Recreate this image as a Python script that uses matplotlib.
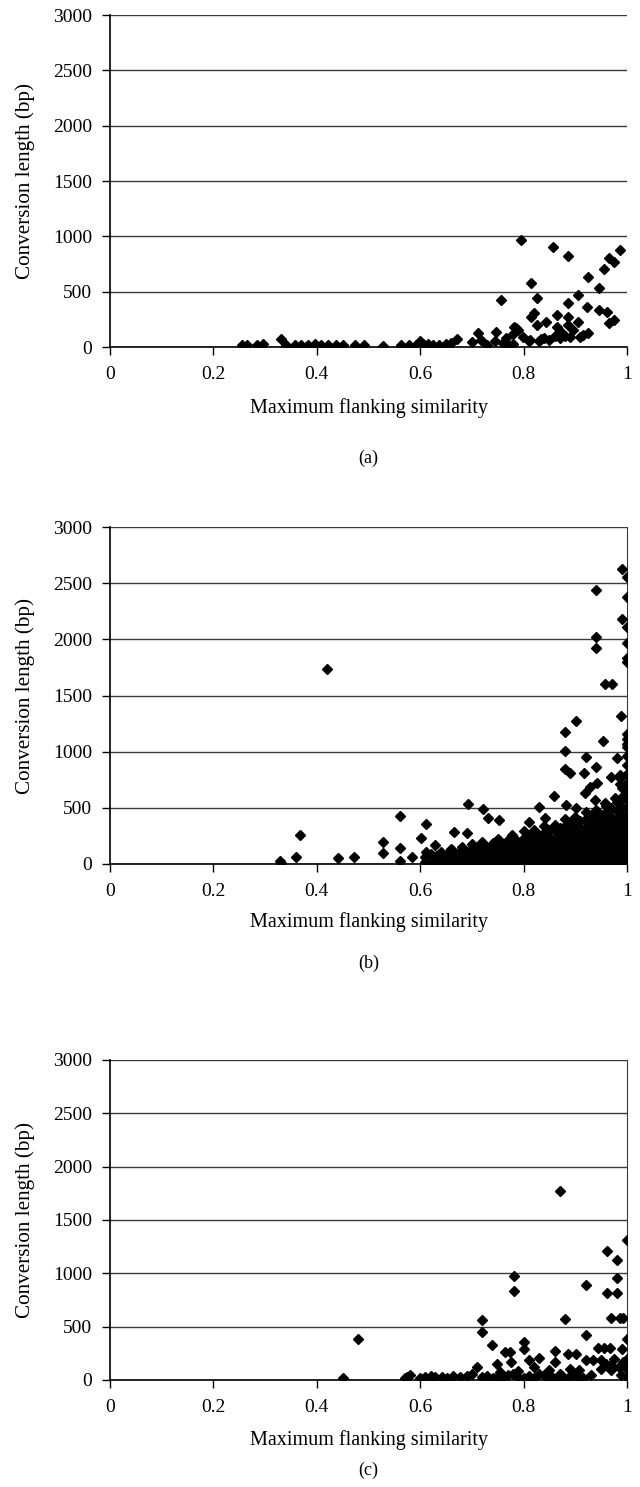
"""Conversion length vs maximum flanking similarity, three panels."""

import matplotlib
matplotlib.use("Agg")
import matplotlib.pyplot as plt

# panel (a)
a_x = [0.255, 0.265, 0.285, 0.295, 0.33, 0.34, 0.357, 0.37, 0.383, 0.396,
       0.409, 0.422, 0.438, 0.45, 0.473, 0.492, 0.528, 0.563, 0.579, 0.592,
       0.60, 0.605, 0.615, 0.624, 0.637, 0.65, 0.66, 0.672,
       0.70, 0.711, 0.718, 0.73, 0.744, 0.746, 0.756, 0.76, 0.766, 0.77,
       0.78, 0.78, 0.782, 0.785, 0.79, 0.795, 0.798, 0.81, 0.812, 0.814,
       0.814, 0.82, 0.825, 0.825, 0.83, 0.833, 0.844, 0.84, 0.85, 0.856,
       0.86, 0.865, 0.865, 0.87, 0.875, 0.88, 0.885, 0.885, 0.885, 0.885,
       0.89, 0.895, 0.905, 0.905, 0.91, 0.915, 0.925, 0.923, 0.925, 0.946,
       0.946, 0.956, 0.962, 0.965, 0.965, 0.975, 0.975, 0.986]
a_y = [20, 15, 20, 25, 75, 15, 20, 15, 20, 25,
       15, 20, 20, 20, 15, 20, 10, 15, 20, 20,
       50, 25, 30, 20, 20, 25, 35, 70,
       48, 124, 63, 20, 50, 138, 425, 40, 78, 20,
       30, 120, 183, 169, 150, 967, 93, 50, 60, 575,
       268, 304, 440, 199, 50, 70, 229, 80, 60, 906,
       100, 289, 180, 80, 130, 100, 822, 400, 274, 200,
       90, 150, 470, 230, 90, 110, 630, 358, 124, 530,
       334, 702, 319, 801, 214, 771, 244, 876]

# panel (b): scattered points
b_x = [0.329, 0.33, 0.359, 0.368, 0.419, 0.441, 0.471, 0.529, 0.529, 0.560,
       0.560, 0.560, 0.584, 0.602, 0.611, 0.611, 0.611, 0.629, 0.661, 0.666,
       0.681, 0.690, 0.693, 0.703, 0.721, 0.732, 0.752, 0.775, 0.777, 0.811,
       0.830, 0.841, 0.858, 0.881, 0.881, 0.881, 0.89, 0.882, 0.901, 0.901,
       0.916, 0.919, 0.921, 0.929, 0.939, 0.94, 0.94, 0.94, 0.94, 0.942,
       0.953, 0.958, 0.958, 0.970, 0.971, 0.977, 0.981, 0.987, 0.987, 0.987,
       0.989, 0.99, 0.99, 1.0, 1.0, 1.0, 1.0, 1.0, 1.0, 1.0, 1.0]
b_y = [27, 8, 65, 258, 1735, 51, 60, 198, 95, 427,
       140, 25, 62, 228, 356, 110, 20, 169, 125, 287,
       125, 273, 531, 160, 487, 412, 391, 210, 258, 377,
       510, 407, 605, 1178, 1008, 845, 813, 525, 1275, 495,
       806, 629, 949, 688, 570, 2439, 2018, 1920, 860, 717,
       1097, 1605, 540, 777, 1605, 584, 940, 762, 790, 710,
       1317, 2626, 2180, 2557, 2379, 2107, 1964, 1830, 1795, 1160, 1070]

# panel (b): the dense mass near the baseline, read column by column
b_dense_x = [0.61, 0.61, 0.62, 0.62, 0.63, 0.63, 0.64, 0.64, 0.64, 0.65, 0.65,
             0.66, 0.66, 0.66, 0.67, 0.67, 0.68, 0.68, 0.68, 0.69, 0.69,
             0.70, 0.70, 0.70, 0.70, 0.71, 0.71, 0.71,
             0.72, 0.72, 0.72, 0.72, 0.73, 0.73, 0.73,
             0.74, 0.74, 0.74, 0.74, 0.75, 0.75, 0.75, 0.75,
             0.76, 0.76, 0.76, 0.76, 0.77, 0.77, 0.77, 0.77,
             0.78, 0.78, 0.78, 0.78, 0.78, 0.79, 0.79, 0.79, 0.79,
             0.80, 0.80, 0.80, 0.80, 0.80, 0.80, 0.81, 0.81, 0.81, 0.81, 0.81,
             0.82, 0.82, 0.82, 0.82, 0.82, 0.82, 0.83, 0.83, 0.83, 0.83, 0.83,
             0.84, 0.84, 0.84, 0.84, 0.84, 0.84, 0.84,
             0.85, 0.85, 0.85, 0.85, 0.85, 0.85,
             0.86, 0.86, 0.86, 0.86, 0.86, 0.86, 0.86,
             0.87, 0.87, 0.87, 0.87, 0.87, 0.87,
             0.88, 0.88, 0.88, 0.88, 0.88, 0.88, 0.88, 0.88,
             0.89, 0.89, 0.89, 0.89, 0.89, 0.89, 0.89,
             0.90, 0.90, 0.90, 0.90, 0.90, 0.90, 0.90, 0.90,
             0.91, 0.91, 0.91, 0.91, 0.91, 0.91, 0.91,
             0.92, 0.92, 0.92, 0.92, 0.92, 0.92, 0.92, 0.92, 0.92,
             0.93, 0.93, 0.93, 0.93, 0.93, 0.93, 0.93, 0.93,
             0.94, 0.94, 0.94, 0.94, 0.94, 0.94, 0.94, 0.94, 0.94,
             0.95, 0.95, 0.95, 0.95, 0.95, 0.95, 0.95, 0.95,
             0.96, 0.96, 0.96, 0.96, 0.96, 0.96, 0.96, 0.96, 0.96, 0.96,
             0.97, 0.97, 0.97, 0.97, 0.97, 0.97, 0.97, 0.97, 0.97,
             0.98, 0.98, 0.98, 0.98, 0.98, 0.98, 0.98, 0.98, 0.98, 0.98,
             0.99, 0.99, 0.99, 0.99, 0.99, 0.99, 0.99, 0.99, 0.99, 0.99, 0.99,
             1.0, 1.0, 1.0, 1.0, 1.0, 1.0, 1.0, 1.0, 1.0, 1.0,
             1.0, 1.0, 1.0, 1.0, 1.0, 1.0, 1.0, 1.0]
b_dense_y = [20, 60, 10, 90, 30, 70, 15, 50, 110, 25, 80,
             10, 60, 130, 30, 90, 15, 55, 150, 35, 100,
             10, 60, 130, 180, 25, 90, 150,
             10, 50, 110, 200, 30, 80, 140,
             15, 60, 120, 190, 35, 90, 150, 220,
             10, 60, 120, 180, 30, 80, 140, 210,
             15, 60, 110, 170, 240, 35, 90, 140, 200,
             10, 55, 110, 160, 230, 290, 30, 80, 130, 190, 250,
             15, 60, 110, 160, 220, 300, 35, 90, 140, 200, 260,
             10, 55, 100, 150, 210, 280, 340,
             30, 80, 130, 180, 240, 300,
             15, 60, 110, 160, 220, 290, 350,
             35, 85, 135, 190, 250, 320,
             10, 55, 105, 155, 210, 270, 340, 400,
             30, 80, 130, 180, 240, 300, 370,
             15, 60, 110, 160, 220, 280, 340, 420,
             35, 85, 135, 190, 250, 310, 380,
             10, 55, 105, 155, 210, 270, 330, 400, 460,
             30, 80, 130, 180, 240, 300, 360, 430,
             15, 60, 110, 160, 220, 280, 340, 400, 480,
             35, 85, 135, 190, 250, 310, 370, 440,
             10, 55, 105, 155, 210, 270, 330, 390, 460, 520,
             30, 80, 130, 180, 240, 300, 360, 420, 500,
             15, 60, 110, 160, 220, 280, 340, 400, 470, 550,
             35, 85, 135, 190, 250, 310, 370, 440, 510, 600, 680,
             10, 50, 100, 150, 200, 260, 320, 380, 440, 500,
             570, 640, 720, 800, 880, 960, 1040, 1110]

# panel (c)
c_x = [0.45, 0.48, 0.57, 0.575, 0.58, 0.60, 0.609, 0.62, 0.629, 0.642,
       0.651, 0.664, 0.677, 0.69, 0.70, 0.709, 0.72, 0.72, 0.73, 0.738,
       0.748, 0.755, 0.764, 0.774, 0.775, 0.781, 0.781, 0.78, 0.79, 0.801,
       0.801, 0.81, 0.82, 0.83, 0.84, 0.85, 0.861, 0.861, 0.87, 0.87,
       0.88, 0.886, 0.89, 0.902, 0.907, 0.92, 0.92, 0.92, 0.93, 0.935,
       0.944, 0.95, 0.955, 0.962, 0.962, 0.968, 0.97, 0.97, 0.97, 0.98,
       0.98, 0.98, 0.987, 0.99, 0.989, 0.993, 0.993, 1.0, 1.0, 1.0,
       1.0, 1.0, 0.72, 0.74, 0.75, 0.76, 0.77, 0.79, 0.80, 0.81,
       0.82, 0.83, 0.845, 0.855, 0.865, 0.875, 0.885, 0.895, 0.905, 0.915,
       0.95, 0.96, 0.975, 0.985]
c_y = [15, 380, 15, 30, 45, 20, 30, 35, 25, 30,
       20, 35, 25, 40, 60, 123, 565, 448, 40, 324,
       154, 77, 260, 265, 170, 972, 836, 60, 30, 355,
       293, 185, 123, 210, 50, 90, 272, 170, 1770, 60,
       571, 240, 100, 240, 93, 893, 426, 190, 46, 190,
       300, 190, 300, 1214, 811, 300, 580, 140, 93, 1126,
       956, 811, 580, 293, 46, 580, 170, 1314, 380, 200,
       100, 30, 30, 20, 40, 20, 50, 80, 20, 40,
       20, 60, 20, 30, 20, 40, 20, 50, 30, 20,
       100, 150, 200, 120]

y_ticks = [0, 500, 1000, 1500, 2000, 2500, 3000]
x_ticks = [0, 0.2, 0.4, 0.6, 0.8, 1.0]
x_tick_labels = ["0", "0.2", "0.4", "0.6", "0.8", "1"]

W, H = 640, 1487
plt.rcParams["font.family"] = ["Liberation Serif", "DejaVu Serif"]

fig = plt.figure(figsize=(W / 100, H / 100), dpi=100)

# data, top px, bottom px, x-label y px, caption y px, caption, right spine
panels = [
    ((a_x,), (a_y,), 15, 347, 408, 458, "(a)", False),
    ((b_x, b_dense_x), (b_y, b_dense_y), 527, 864, 922, 963, "(b)", True),
    ((c_x,), (c_y,), 1060, 1380, 1440, 1470, "(c)", True),
]

left, right = 110, 627
for xs, ys, top, bottom, xlab_y, cap_y, caption, right_spine in panels:
    ax = fig.add_axes([left / W, 1 - bottom / H, (right - left) / W, (bottom - top) / H])
    for x, y in zip(xs, ys):
        ax.plot(x, y, linestyle="none", marker="D", markersize=4.6,
                color="black", zorder=3)
    ax.set_xlim(0, 1)
    ax.set_ylim(0, 3000)
    ax.set_yticks(y_ticks)
    ax.set_xticks(x_ticks)
    ax.set_xticklabels(x_tick_labels)
    ax.yaxis.grid(True, color="#3a3a3a", linewidth=1.0)
    ax.set_axisbelow(True)
    for side in ["top", "right"]:
        ax.spines[side].set_visible(False)
    if right_spine:
        ax.spines["right"].set_visible(True)
        ax.spines["right"].set_color("#3a3a3a")
    ax.spines["left"].set_linewidth(1.2)
    ax.spines["bottom"].set_linewidth(1.2)
    ax.tick_params(direction="out", length=6, width=1.0, labelsize=14)
    ax.tick_params(axis="x", pad=8)
    ax.tick_params(axis="y", pad=7)
    fig.text((left + right) / 2 / W, 1 - xlab_y / H, "Maximum flanking similarity",
             ha="center", va="center", fontsize=14.5)
    fig.text(25 / W, 1 - (top + bottom) / 2 / H, "Conversion length (bp)",
             ha="center", va="center", rotation=90, fontsize=15.2)
    fig.text((left + right) / 2 / W, 1 - cap_y / H, caption,
             ha="center", va="center", fontsize=13)

fig.savefig("out.png", dpi=100)
